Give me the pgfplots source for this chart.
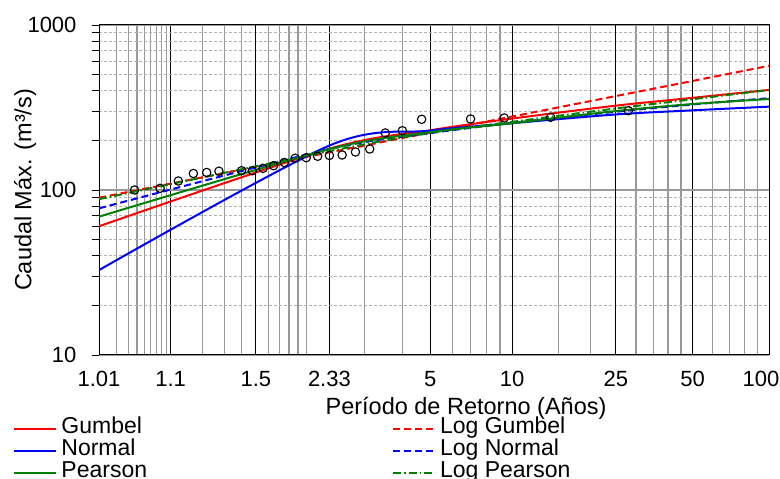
\documentclass[border=0pt]{standalone}
\usepackage{fontspec}
\setmainfont{Liberation Sans}
\usepackage{pgfplots}
\pgfplotsset{compat=1.18}
\definecolor{cred}{RGB}{255,0,0}
\definecolor{cblue}{RGB}{0,0,255}
\definecolor{cgreen}{RGB}{0,128,0}
\begin{document}
\begin{tikzpicture}
\begin{axis}[
  at={(99pt,-25pt)}, anchor=north west,
  scale only axis, width=670pt, height=330pt,
  xmin=-1.5293, xmax=4.6002,
  ymode=log, ymin=10, ymax=1000,
  axis line style={black, line width=1pt},
  xtick={-1.5293,-0.8746,0.5786,1.4999,2.2504,3.9019,4.6002},
  xticklabels={1.01,1.1,2.33,5,10,50,{\hspace*{-16pt}100}},
  extra x ticks={-0.0940,3.1985},
  extra x tick labels={1.5,25},
  extra x tick style={xmajorgrids=true, major grid style={black!65, line width=1.3pt}},
  minor xtick={-1.3691,-1.2630,-1.1811,-1.1134,-1.0549,-1.0032,-0.9565,-0.9139,
    -0.5832,-0.3828,-0.2254,0.0194,0.1196,0.2096,0.2914,0.3665,0.9027,1.2459,
    1.7020,1.8698,2.0134,2.1389,2.6738,2.9702,3.3843,3.5409,3.6762,3.7955,
    4.0860,4.2413,4.3757,4.4942},
  xtick style={draw=none},
  ytick={10,100,1000},
  yticklabels={10,100,1000},
  minor ytick={20,30,40,50,60,70,80,90,200,300,400,500,600,700,800,900},
  ytick pos=left, tick align=outside,
  major tick length=7pt, minor tick length=7pt,
  ytick style={black, line width=0.8pt},
  xmajorgrids, xminorgrids, ymajorgrids, yminorgrids,
  major x grid style={black, line width=1pt},
  minor x grid style={black!40, line width=1.2pt},
  major y grid style={black!40, line width=1.2pt},
  minor y grid style={black!30, line width=0.8pt, dash pattern=on 3pt off 2pt},
  ticklabel style={font=\fontsize{22}{22}\selectfont},
  xticklabel style={yshift=-6pt},
  yticklabel style={xshift=-12pt},
  xlabel={Período de Retorno (Años)},
  ylabel={Caudal Máx. (m³/s)},
  label style={font=\fontsize{23.5}{23.5}\selectfont},
  xlabel style={at={(axis description cs:0.5478,-0.1627)}, anchor=center},
  ylabel style={at={(axis description cs:-0.1104,0.5)}, anchor=center},
  legend columns=2,
  legend cell align=left,
  legend image code/.code={\draw[#1] (0pt,0pt) -- (42pt,0pt);},
  legend style={at={(axis description cs:-0.128,-0.19)}, anchor=north west,
    draw=none, fill=none, inner sep=0pt, row sep=0pt,
    font=\fontsize{23}{23}\selectfont,
    nodes={inner sep=0pt, text height=16pt, text depth=6pt},
    /tikz/every odd column/.append style={column sep=4pt},
    /tikz/every even column/.append style={column sep=245pt}},
]
\addplot[cred, line width=2pt, smooth] coordinates {(-1.5293,60.3) (0.5786,178) (1.4999,230) (2.2504,271) (3.1985,324.5) (3.9019,362) (4.6002,404)};
\addlegendentry{Gumbel}
\addplot[cred, line width=2pt, smooth, dash pattern=on 7pt off 4pt] coordinates {(-1.5293,89.8) (0.5786,169) (1.4999,222.7) (2.2504,278.8) (3.1985,371) (3.9019,458) (4.6002,566)};
\addlegendentry{Log Gumbel}
\addplot[cblue, line width=2pt, smooth] coordinates {(-1.5293,32.7) (0.5786,186) (1.4999,229) (2.2504,254) (3.1985,287) (3.9019,304) (4.6002,320)};
\addlegendentry{Normal}
\addplot[cblue, line width=2pt, smooth, dash pattern=on 7pt off 4pt] coordinates {(-1.5293,77.4) (0.5786,177) (1.4999,221) (2.2504,255) (3.1985,298) (3.9019,330) (4.6002,360)};
\addlegendentry{Log Normal}
\addplot[cgreen, line width=2pt, smooth] coordinates {(-1.5293,68.9) (0.5786,177) (1.4999,224) (2.2504,254) (3.1985,301) (3.9019,332) (4.6002,356)};
\addlegendentry{Pearson}
\addplot[cgreen, line width=2pt, smooth, dash pattern=on 8pt off 3pt on 1.5pt off 3pt] coordinates {(-1.5293,88) (0.5786,172) (1.4999,222) (2.2504,259) (3.1985,312) (3.9019,355) (4.6002,404)};
\addlegendentry{Log Pearson}
\addplot[only marks, mark=o, mark size=4.2pt, black, line width=1.1pt, forget plot] coordinates {
(-1.2036,100.0) (-0.9704,102.4) (-0.8036,113.4) (-0.6657,125.9) (-0.5440,127.7)
(-0.4321,130.0) (-0.2254,130.9) (-0.1266,130.9) (-0.0292,135.3) (0.0680,140.4)
(0.1657,146.8) (0.2649,155.7) (0.3665,157.0) (0.4713,160.1) (0.5786,161.9)
(0.6951,163.0) (0.8169,170.0) (0.9473,177.2) (1.0893,221.6) (1.2459,228.8)
(1.4223,268.2) (1.8698,269.3) (2.1775,273.2) (2.6022,275.9) (3.3141,302.5)};
\node[anchor=base east, font=\fontsize{15}{15}\selectfont, xshift=-2pt, yshift=3.3pt] at (rel axis cs:1,1) {*Papel probabilístico de distribución Log Gumbel};
\end{axis}
\pgfresetboundingbox
\path[use as bounding box] (0pt,0pt) rectangle (780pt,-479pt);
\end{tikzpicture}
\end{document}
